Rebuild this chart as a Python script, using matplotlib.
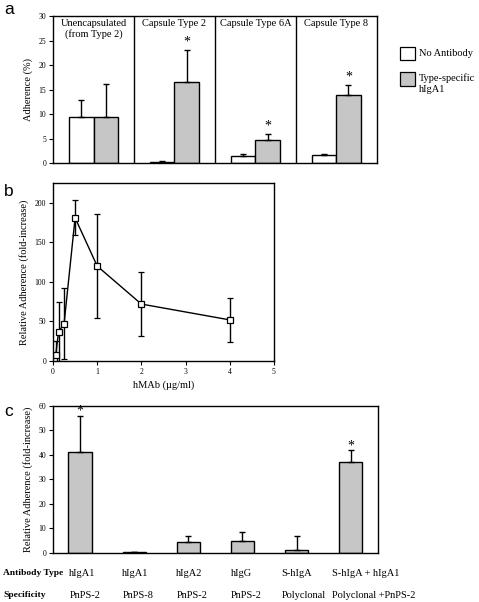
import numpy as np
import matplotlib
matplotlib.use('Agg')
import matplotlib.pyplot as plt
from matplotlib.patches import Rectangle

plt.rcParams['font.family'] = ['Liberation Serif', 'DejaVu Serif']

# panel a
groups_a = ['Unencapsulated\n(from Type 2)', 'Capsule Type 2', 'Capsule Type 6A', 'Capsule Type 8']
no_ab = [9.3, 0.3, 1.5, 1.6]
no_ab_err = [3.5, 0.1, 0.3, 0.2]
higa1 = [9.3, 16.6, 4.6, 13.8]
higa1_err = [6.9, 6.4, 1.3, 2.2]
star_a = [False, True, True, True]

# panel b
dose = [0.02, 0.0625, 0.125, 0.25, 0.5, 1, 2, 4]
rel_adh = [1, 8, 37, 47, 181, 120, 72, 52]
rel_err = [2, 17, 37, 45, 22, 66, 40, 28]

# panel c
ab_type = ['hIgA1', 'hIgA1', 'hIgA2', 'hIgG', 'S-hIgA', 'S-hIgA + hIgA1']
specif = ['PnPS-2', 'PnPS-8', 'PnPS-2', 'PnPS-2', 'Polyclonal', 'Polyclonal +PnPS-2']
rel_c = [41.3, 0.3, 4.5, 5.0, 1.3, 37.2]
rel_c_err = [14.7, 0.0, 2.3, 3.7, 5.7, 4.8]
star_c = [True, False, False, False, False, True]

GRAY = '#c6c6c6'
fs = 7.5
tfs = 5.5

fig = plt.figure(figsize=(4.79, 6.02), dpi=100)

def style(ax):
    for s in ax.spines.values():
        s.set_linewidth(1.0)
    ax.tick_params(axis='y', direction='out', length=3, width=0.8, labelsize=tfs, pad=2)

# ---- a ----
axa = fig.add_axes([0.1107, 0.7292, 0.676, 0.2442])
style(axa)
w = 0.3
xs = np.arange(len(groups_a)) + 0.5
axa.bar(xs - w/2, no_ab, w, color='white', edgecolor='black', linewidth=1.0,
        yerr=[np.zeros(4), no_ab_err], error_kw=dict(capsize=2.5, elinewidth=1, capthick=1))
axa.bar(xs + w/2, higa1, w, color=GRAY, edgecolor='black', linewidth=1.0,
        yerr=[np.zeros(4), higa1_err], error_kw=dict(capsize=2.5, elinewidth=1, capthick=1))
for i in range(len(groups_a)):
    if star_a[i]:
        axa.text(xs[i] + w/2, higa1[i] + higa1_err[i] + 0.3, '*', ha='center', va='bottom', fontsize=10)
    axa.text(xs[i], 29.3, groups_a[i], ha='center', va='top', fontsize=fs, linespacing=1.1)
for d in [1, 2, 3]:
    axa.axvline(d, color='black', lw=1.0)
axa.set_xlim(0, 4)
axa.set_ylim(0, 30)
axa.set_yticks(range(0, 31, 5))
axa.set_xticks([])
axa.set_ylabel('Adherence (%)', fontsize=fs, labelpad=4)

# legend
fig.patches.append(Rectangle((400/479, 1 - 60/602), 15/479, 13/602, transform=fig.transFigure,
                             facecolor='white', edgecolor='black', lw=0.9))
fig.patches.append(Rectangle((400/479, 1 - 86/602), 15/479, 14/602, transform=fig.transFigure,
                             facecolor=GRAY, edgecolor='black', lw=0.9))
fig.text(419/479, 1 - 53/602, 'No Antibody', fontsize=fs, va='center')
fig.text(419/479, 1 - 73/602, 'Type-specific\nhIgA1', fontsize=fs, va='top', linespacing=1.3)

# ---- b ----
axb = fig.add_axes([0.1107, 0.4003, 0.461, 0.2957])
style(axb)
axb.errorbar(dose, rel_adh, yerr=rel_err, color='black', lw=1.0, marker='s', ms=4.5,
             mfc='white', mec='black', mew=0.9, capsize=2.5, elinewidth=1, capthick=1)
axb.set_xlim(0, 5)
axb.set_ylim(0, 225)
axb.set_yticks([0, 50, 100, 150, 200])
axb.set_xticks(range(0, 6))
axb.tick_params(axis='x', direction='out', length=3, width=0.8, labelsize=tfs, pad=2)
axb.set_ylabel('Relative Adherence (fold-increase)', fontsize=fs, labelpad=4)
axb.set_xlabel('hMAb (\u00b5g/ml)', fontsize=fs, labelpad=3)

# ---- c ----
axc = fig.add_axes([0.1107, 0.0814, 0.678, 0.2442])
style(axc)
xc = np.arange(len(rel_c)) + 0.5
bw = 0.43
axc.bar(xc, rel_c, bw, color=GRAY, edgecolor='black', linewidth=1.0,
        yerr=[np.zeros(len(rel_c)), rel_c_err], error_kw=dict(capsize=2.5, elinewidth=1, capthick=1))
for i in range(len(rel_c)):
    if star_c[i]:
        axc.text(xc[i], rel_c[i] + rel_c_err[i] - 0.8, '*', ha='center', va='bottom', fontsize=10)
axc.set_xlim(0, 6)
axc.set_ylim(0, 60)
axc.set_yticks(range(0, 61, 10))
axc.set_xticks([])
axc.set_ylabel('Relative Adherence (fold-increase)', fontsize=fs, labelpad=4)

fig.text(3/479, 1 - 573/602, 'Antibody Type', fontsize=6.8, fontweight='bold', va='center')
fig.text(3/479, 1 - 595/602, 'Specificity', fontsize=6.8, fontweight='bold', va='center')
offs = [-0.2, -0.22, -0.22, -0.22, -0.28, -0.35]
for i in range(len(ab_type)):
    axc.text(xc[i] + offs[i], -0.14, ab_type[i], transform=axc.get_xaxis_transform(),
             fontsize=fs, ha='left', va='center')
    axc.text(xc[i] + offs[i], -0.29, specif[i], transform=axc.get_xaxis_transform(),
             fontsize=fs, ha='left', va='center')

# panel letters
for lab, y in [('a', 10), ('b', 191), ('c', 411)]:
    fig.text(4/479, 1 - y/602, lab, fontsize=12.5, family='Liberation Sans', va='center')

fig.savefig('out.png', dpi=100)
